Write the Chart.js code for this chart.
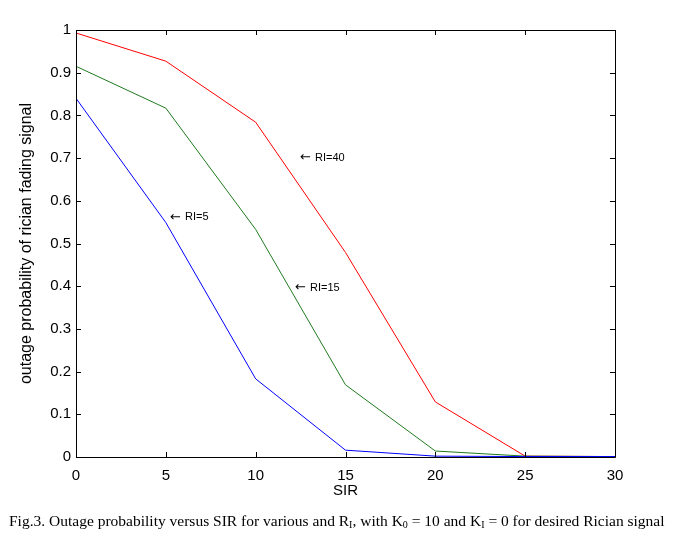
<!DOCTYPE html>
<html>
<head>
<meta charset="utf-8">
<script src="https://cdn.jsdelivr.net/npm/chart.js@4"></script>
<style>
  html, body { margin: 0; padding: 0; background: #fff; }
  #wrap { position: relative; width: 680px; height: 548px; }
  #caption {
    position: absolute; left: 9px; top: 512px;
    font-family: "Liberation Serif", "Times New Roman", serif;
    font-size: 15.5px; color: #000; white-space: nowrap;
  }
  #caption sub { font-size: 10px; vertical-align: -2px; line-height: 0; }
</style>
</head>
<body>
<div id="wrap">
  <canvas id="chart" width="680" height="548"></canvas>
  <div id="caption">Fig.3. Outage probability versus SIR for various and R<sub>I</sub>, with K<sub>0</sub> = 10 and K<sub>I</sub> = 0 for desired Rician signal</div>
</div>
<script>
// data
const sir = [0, 5, 10, 15, 20, 25, 30];
const ri40 = [0.993, 0.927, 0.784, 0.479, 0.129, 0.002, 0.001];
const ri15 = [0.915, 0.817, 0.533, 0.169, 0.014, 0.002, 0.001];
const ri5 = [0.840, 0.549, 0.183, 0.016, 0.002, 0.001, 0.001];

const xTicks = [0, 5, 10, 15, 20, 25, 30];
const yTicks = [0, 0.1, 0.2, 0.3, 0.4, 0.5, 0.6, 0.7, 0.8, 0.9, 1];

// text labels placed in data coordinates
const noteText = ['RI=40', 'RI=5', 'RI=15'];
const noteX = [12.47, 5.23, 12.19];
const noteY = [0.70, 0.561, 0.397];

const toPoints = (ys) => sir.map((x, i) => ({ x: x, y: ys[i] }));

// MATLAB-like box with inward ticks on all four sides
const boxPlugin = {
    id: 'box',
    afterDatasetsDraw(chart) {
        const { ctx, chartArea: a, scales } = chart;
        const len = 5;
        ctx.save();
        ctx.strokeStyle = '#000';
        ctx.lineWidth = 1;
        ctx.beginPath();
        ctx.rect(Math.round(a.left) + 0.5, Math.round(a.top) + 0.5,
                 Math.round(a.right - a.left), Math.round(a.bottom - a.top));
        xTicks.forEach(v => {
            const px = Math.round(scales.x.getPixelForValue(v)) + 0.5;
            ctx.moveTo(px, a.bottom); ctx.lineTo(px, a.bottom - len);
            ctx.moveTo(px, a.top); ctx.lineTo(px, a.top + len);
        });
        yTicks.forEach(v => {
            const py = Math.round(scales.y.getPixelForValue(v)) + 0.5;
            ctx.moveTo(a.left, py); ctx.lineTo(a.left + len, py);
            ctx.moveTo(a.right, py); ctx.lineTo(a.right - len, py);
        });
        ctx.stroke();

        ctx.fillStyle = '#000';
        ctx.textBaseline = 'middle';
        ctx.textAlign = 'left';
        noteText.forEach((t, i) => {
            const px = scales.x.getPixelForValue(noteX[i]);
            const py = scales.y.getPixelForValue(noteY[i]);
            ctx.font = '13px "DejaVu Sans", sans-serif';
            ctx.fillText('\u2190', px, py);
            ctx.font = '11px "Liberation Sans", Arial, sans-serif';
            ctx.fillText(t, px + 15, py);
        });
        ctx.restore();
    }
};

const font = { family: '"Liberation Sans", Arial, sans-serif', size: 15 };

new Chart(document.getElementById('chart'), {
    type: 'line',
    data: {
        datasets: [
            { label: 'RI=5', data: toPoints(ri5), borderColor: '#0000ff' },
            { label: 'RI=15', data: toPoints(ri15), borderColor: '#1e7a1e' },
            { label: 'RI=40', data: toPoints(ri40), borderColor: '#ff0000' }
        ]
    },
    options: {
        responsive: false,
        animation: false,
        devicePixelRatio: 1,
        layout: { padding: { top: 30, right: 65, bottom: 48, left: 0 } },
        elements: {
            line: { borderWidth: 1, tension: 0, fill: false },
            point: { radius: 0 }
        },
        plugins: {
            legend: { display: false },
            tooltip: { enabled: false }
        },
        scales: {
            x: {
                type: 'linear', min: 0, max: 30,
                afterFit: (s) => { s.height = 43; },
                afterBuildTicks: (s) => { s.ticks = xTicks.map(v => ({ value: v })); },
                grid: { display: false, drawTicks: false },
                border: { display: false },
                ticks: { color: '#000', font: font, padding: 10, maxRotation: 0 },
                title: { display: true, text: 'SIR', color: '#000', font: font, padding: { top: 0, bottom: 0 } }
            },
            y: {
                type: 'linear', min: 0, max: 1,
                afterFit: (s) => { s.width = 76; },
                afterBuildTicks: (s) => { s.ticks = yTicks.map(v => ({ value: v })); },
                grid: { display: false, drawTicks: false },
                border: { display: false },
                ticks: { color: '#000', font: font, padding: 5, callback: (v) => String(+v.toFixed(1)) },
                title: { display: true, text: 'outage probability of rician fading signal', color: '#000',
                         font: { family: font.family, size: 16 }, padding: { top: 17, bottom: 0 } }
            }
        }
    },
    plugins: [boxPlugin]
});
</script>
</body>
</html>
